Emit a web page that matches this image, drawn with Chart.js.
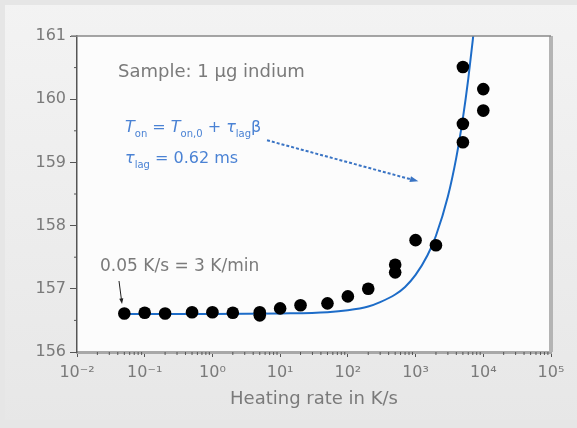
<!DOCTYPE html>
<html>
<head>
<meta charset="utf-8">
<script src="https://cdn.jsdelivr.net/npm/chart.js@4"></script>
<style>
  html, body { margin: 0; padding: 0; background: #e6e6e6; }
  canvas { display: block; }
</style>
</head>
<body>
<canvas id="onsetChart" width="577" height="428"></canvas>
<script>
// measured onset temperatures (heating rate in K/s, onset in °C)
const rates = [0.05, 0.1, 0.2, 0.5, 1, 2, 5, 5, 10, 20, 50, 100, 200, 500, 500, 1000, 2000, 5000, 5000, 5000, 10000, 10000]
const onsets = [156.61, 156.62, 156.61, 156.63, 156.63, 156.62, 156.63, 156.58, 156.69, 156.74, 156.77, 156.88, 157.0, 157.38, 157.26, 157.77, 157.69, 160.51, 159.61, 159.32, 160.16, 159.82]

// fitted curve
const fitRates = [0.05, 1, 10, 50, 100, 200, 300, 500, 700, 1000, 1500, 2000, 3000, 4000, 5000, 6000, 7000, 7500]
const fitOnsets = [156.6, 156.6, 156.61, 156.63, 156.66, 156.72, 156.79, 156.91, 157.03, 157.22, 157.53, 157.84, 158.46, 159.08, 159.7, 160.32, 160.94, 161.25]

const xDecades = [-2, -1, 0, 1, 2, 3, 4, 5]
const yTicks = [156, 157, 158, 159, 160, 161]

const supers = {'-': '⁻', '0': '⁰', '1': '¹', '2': '²', '3': '³', '4': '⁴', '5': '⁵'}
const expLabel = e => '10' + String(e).split('').map(c => supers[c]).join('')

const gray = '#7a7a7a'
const blue = '#4a82d4'

function drawRich(ctx, x, y, parts, size){
  let cx = x
  parts.forEach(p => {
    const fs = p.sub ? Math.round(size * 0.62) : size
    ctx.font = (p.italic ? 'italic ' : '') + fs + 'px "DejaVu Sans"'
    const dy = p.sub ? size * 0.3 : 0
    ctx.fillText(p.t, cx, y + dy)
    cx += ctx.measureText(p.t).width
  })
}

function arrow(ctx, x1, y1, x2, y2, color, width, dash, head){
  ctx.save()
  ctx.strokeStyle = color
  ctx.fillStyle = color
  ctx.lineWidth = width
  ctx.setLineDash(dash)
  const a = Math.atan2(y2 - y1, x2 - x1)
  ctx.beginPath()
  ctx.moveTo(x1, y1)
  ctx.lineTo(x2 - Math.cos(a) * head * 0.8, y2 - Math.sin(a) * head * 0.8)
  ctx.stroke()
  ctx.setLineDash([])
  ctx.beginPath()
  ctx.moveTo(x2, y2)
  ctx.lineTo(x2 - head * Math.cos(a - 0.35), y2 - head * Math.sin(a - 0.35))
  ctx.lineTo(x2 - head * Math.cos(a + 0.35), y2 - head * Math.sin(a + 0.35))
  ctx.closePath()
  ctx.fill()
  ctx.restore()
}

const backdrop = {
  id: 'backdrop',
  beforeDraw(chart){
    const ctx = chart.ctx
    const a = chart.chartArea
    ctx.save()
    ctx.fillStyle = '#e6e6e6'
    ctx.fillRect(0, 0, chart.width, chart.height)
    const g = ctx.createLinearGradient(0, 0, 0, chart.height)
    g.addColorStop(0, '#f3f3f3')
    g.addColorStop(1, '#e7e7e7')
    ctx.fillStyle = g
    ctx.fillRect(5, 5, chart.width - 5, chart.height - 13)
    ctx.fillStyle = '#fcfcfc'
    ctx.fillRect(a.left, a.top, a.right - a.left, a.bottom - a.top)
    ctx.restore()
  },
  afterDraw(chart){
    const ctx = chart.ctx
    const a = chart.chartArea
    const xs = chart.scales.x
    const ys = chart.scales.y
    ctx.save()
    // frame
    ctx.strokeStyle = '#b4b4b4'
    ctx.lineWidth = 4
    ctx.beginPath()
    ctx.moveTo(a.right, a.top)
    ctx.lineTo(a.right, a.bottom)
    ctx.stroke()
    ctx.strokeStyle = '#888'
    ctx.lineWidth = 1.5
    ctx.beginPath()
    ctx.moveTo(a.left - 6, a.top)
    ctx.lineTo(a.right, a.top)
    ctx.stroke()
    // minor ticks
    ctx.strokeStyle = '#555'
    ctx.lineWidth = 1
    for(let v = 156.5; v < 161; v += 1){
      const py = ys.getPixelForValue(v)
      ctx.beginPath()
      ctx.moveTo(a.left - 3, py)
      ctx.lineTo(a.left, py)
      ctx.stroke()
    }
    xDecades.slice(0, -1).forEach(e => {
      for(let m = 2; m < 10; m++){
        const px = xs.getPixelForValue(m * Math.pow(10, e))
        ctx.beginPath()
        ctx.moveTo(px, a.bottom)
        ctx.lineTo(px, a.bottom + 3)
        ctx.stroke()
      }
    })
    // annotations
    ctx.fillStyle = gray
    ctx.textBaseline = 'alphabetic'
    ctx.font = '18px "DejaVu Sans"'
    ctx.fillText('Sample: 1 µg indium', 118, 77)
    ctx.font = '17px "DejaVu Sans"'
    ctx.fillText('0.05 K/s = 3 K/min', 100, 271)
    arrow(ctx, 119, 281, 122, 304, '#222', 1, [], 6)

    ctx.fillStyle = blue
    drawRich(ctx, 125, 132, [
      {t: 'T', italic: true}, {t: 'on', sub: true}, {t: ' = '},
      {t: 'T', italic: true}, {t: 'on,0', sub: true}, {t: ' + '},
      {t: 'τ', italic: true}, {t: 'lag', sub: true}, {t: 'β'}
    ], 16)
    drawRich(ctx, 125, 163, [
      {t: 'τ', italic: true}, {t: 'lag', sub: true}, {t: ' = 0.62 ms'}
    ], 16)
    arrow(ctx, xs.getPixelForValue(6.4), ys.getPixelForValue(159.35),
      xs.getPixelForValue(1100), ys.getPixelForValue(158.7), '#3a74c4', 2, [3, 2], 9)
    ctx.restore()
  }
}

const ctx = document.getElementById('onsetChart').getContext('2d')
const chart = new Chart(ctx, {
  type: 'scatter',
  data: {
    datasets: [
      {
        label: 'measured',
        data: rates.map((r, i) => ({x: r, y: onsets[i]})),
        pointRadius: 6.3,
        pointBackgroundColor: '#000',
        pointBorderColor: '#000',
        pointBorderWidth: 0
      },
      {
        label: 'fit',
        type: 'line',
        data: fitRates.map((r, i) => ({x: r, y: fitOnsets[i]})),
        borderColor: '#1d6cc8',
        borderWidth: 2,
        pointRadius: 0,
        cubicInterpolationMode: 'monotone',
        fill: false
      }
    ]
  },
  options: {
    responsive: false,
    animation: false,
    layout: {padding: {top: 36, right: 26, left: 0, bottom: 18}},
    plugins: {legend: {display: false}, tooltip: {enabled: false}},
    scales: {
      x: {
        type: 'logarithmic',
        min: 0.01,
        max: 100000,
        afterBuildTicks: scale => { scale.ticks = xDecades.map(e => ({value: Math.pow(10, e)})) },
        afterFit: scale => { scale.height = 58 },
        ticks: {
          callback: v => expLabel(Math.round(Math.log10(v))),
          color: gray,
          font: {family: 'DejaVu Sans', size: 16},
          padding: 6,
          maxRotation: 0,
          autoSkip: false
        },
        grid: {drawOnChartArea: false, tickLength: 5, color: '#555', tickColor: '#555'},
        border: {display: true, color: '#a8a8a8', width: 3},
        title: {
          display: true,
          text: 'Heating rate in K/s',
          color: gray,
          font: {family: 'DejaVu Sans', size: 18},
          padding: {top: 4, bottom: 0}
        }
      },
      y: {
        min: 156,
        max: 161,
        afterBuildTicks: scale => { scale.ticks = yTicks.map(v => ({value: v})) },
        afterFit: scale => { scale.width = 77 },
        ticks: {
          color: gray,
          font: {family: 'DejaVu Sans', size: 16},
          padding: 4
        },
        grid: {drawOnChartArea: false, tickLength: 7, color: '#555', tickColor: '#555'},
        border: {display: true, color: '#555', width: 1.5}
      }
    }
  },
  plugins: [backdrop]
})
</script>
</body>
</html>
